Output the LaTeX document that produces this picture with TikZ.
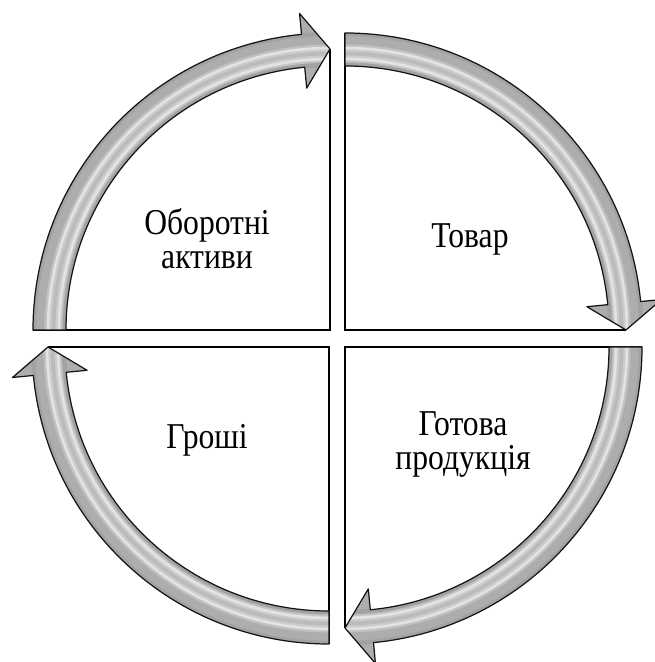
\documentclass[tikz,border=0pt]{standalone}
\usepackage{fontspec}
\setmainfont{Liberation Serif}
\definecolor{arrowgray}{gray}{0.68}
\definecolor{edgegray}{gray}{0.08}
\tikzset{
  qline/.style={draw=black, line width=0.75pt},
  arrowline/.style={draw=edgegray, line width=0.7pt, line join=round},
  arrowbase/.style={fill=arrowgray},
  lbl/.style={align=center, inner sep=0pt}
}
\newcommand\lbltext[1]{\scalebox{1}[1.15]{\fontsize{18}{16.6}\selectfont\begin{tabular}{@{}c@{}}#1\end{tabular}}}
\newcommand\cycarrow[4]{%
  \begin{scope}[shift={(#1,#2)}]
    \pgfmathsetmacro\hb{#4+5.5}
    \def\arrpath{(#3:297) arc[start angle=#3, end angle=\hb, radius=297] -- (\hb:318) -- (#4:281) -- (\hb:243) -- (\hb:264) arc[start angle=\hb, end angle=#3, radius=264] -- cycle}
    \begin{scope}
      \clip \arrpath;
      \fill[arrowbase] (0,0) circle (330);
      \draw[white, line width=8pt, opacity=0.18] (0,0) circle (276);
      \draw[white, line width=4pt, opacity=0.25] (0,0) circle (271);
      \draw[white, line width=4pt, opacity=0.25] (0,0) circle (282);
      \draw[white, line width=1.5pt, opacity=0.45] (0,0) circle (271);
      \draw[white, line width=1.5pt, opacity=0.45] (0,0) circle (282);
      \draw[black, line width=2.5pt, opacity=0.06] (0,0) circle (296);
      \draw[black, line width=2.5pt, opacity=0.06] (0,0) circle (265);
    \end{scope}
    \draw[arrowline] \arrpath;
  \end{scope}}
\begin{document}
\begin{tikzpicture}[x=0.02cm, y=0.02cm]
  \useasboundingbox (0,0) rectangle (655,662);
  % quadrant corner lines
  \coordinate (tlc) at (330,332);
  \coordinate (trc) at (345,332);
  \coordinate (brc) at (345,315);
  \coordinate (blc) at (329,315);
  \draw[qline] (330,613) -- (tlc) -- (33,332);
  \draw[qline] (345,629) -- (trc) -- (626,332);
  \draw[qline] (642,315) -- (brc) -- (345,34);
  \draw[qline] (329,18) -- (blc) -- (48,315);
  % arrows
  \cycarrow{330}{332}{180}{90}
  \cycarrow{345}{332}{90}{0}
  \cycarrow{345}{315}{0}{-90}
  \cycarrow{329}{315}{-90}{-180}
  % labels
  \node[lbl] (tl) at (207,418.5) {\lbltext{Оборотні\\активи}};
  \node[lbl] (tr) at (470,421) {\lbltext{Товар}};
  \node[lbl] (bl) at (207,221) {\lbltext{Гроші}};
  \node[lbl] (br) at (463,216) {\lbltext{Готова\\продукція}};
\end{tikzpicture}
\end{document}
